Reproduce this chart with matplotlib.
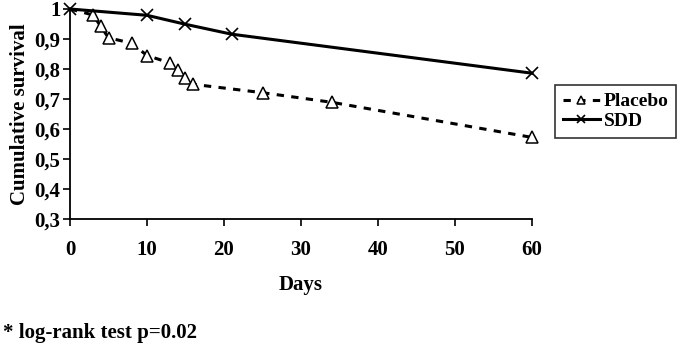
import matplotlib
matplotlib.use("Agg")
import matplotlib.pyplot as plt

# Data
placebo_days = [0, 3, 4, 5, 8, 10, 13, 14, 15, 16, 25, 34, 60]
placebo_surv = [1.0, 0.98, 0.942, 0.904, 0.886, 0.845, 0.82, 0.796, 0.771, 0.749, 0.721, 0.689, 0.572]
sdd_days = [0, 10, 15, 21, 60]
sdd_surv = [1.0, 0.979, 0.949, 0.916, 0.786]
x_ticks = [0, 10, 20, 30, 40, 50, 60]
y_ticks = [0.3, 0.4, 0.5, 0.6, 0.7, 0.8, 0.9, 1.0]
y_ticklabels = ["0,3", "0,4", "0,5", "0,6", "0,7", "0,8", "0,9", "1"]

plt.rcParams['font.family'] = ['Liberation Serif', 'DejaVu Serif']
plt.rcParams['font.weight'] = 'bold'

FS = 15

fig = plt.figure(figsize=(6.83, 3.48), dpi=100)
ax = fig.add_axes([70 / 683, 129 / 348, 462 / 683, 210 / 348])

ax.plot(placebo_days, placebo_surv, color='black', lw=2.2, linestyle=(0, (2.4, 2.4)),
        marker='^', markersize=9, markerfacecolor='white', markeredgecolor='black',
        markeredgewidth=1.1, markevery=list(range(1, len(placebo_days))),
        clip_on=False, label='Placebo')
ax.plot(sdd_days, sdd_surv, color='black', lw=2.2, linestyle='-',
        marker='x', markersize=9, markeredgewidth=1.2, clip_on=False, label='SDD')

ax.set_xlim(0, 60)
ax.set_ylim(0.3, 1.0)
ax.set_xticks(x_ticks)
ax.set_xticklabels([str(t) for t in x_ticks], fontsize=FS, fontweight='bold')
ax.set_yticks(y_ticks)
ax.set_yticklabels(y_ticklabels, fontsize=FS, fontweight='bold')
ax.tick_params(axis='x', direction='out', length=5, width=1.2, pad=10)
ax.tick_params(axis='y', direction='out', length=5, width=1.2, pad=2)
for s in ['top', 'right']:
    ax.spines[s].set_visible(False)
for s in ['left', 'bottom']:
    ax.spines[s].set_linewidth(1.3)

ax.set_xlabel('Days', fontsize=FS, fontweight='bold', labelpad=11)
ax.set_ylabel('Cumulative survival', fontsize=FS, fontweight='bold', labelpad=3)

leg = ax.legend(loc='upper left', bbox_to_anchor=(555 / 683, 1 - 85 / 348),
                bbox_transform=fig.transFigure, borderaxespad=0, frameon=True,
                fancybox=False, edgecolor='black', handlelength=1.9,
                handletextpad=0.2, labelspacing=0.1, borderpad=0.4,
                markerscale=0.7, prop={'weight': 'bold', 'size': 14})
leg.get_frame().set_linewidth(1.2)

fig.text(3 / 683, 1 - 333 / 348, '* log-rank test p=0.02', fontsize=FS,
         fontweight='bold', va='center', ha='left')

fig.savefig('out.png', dpi=100)
